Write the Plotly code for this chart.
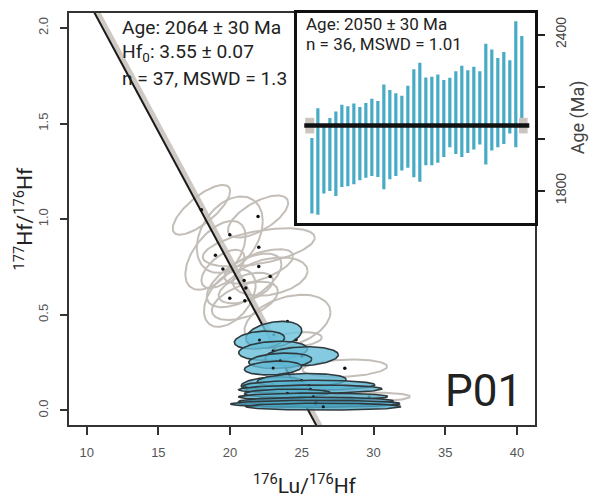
import numpy as np
import plotly.graph_objects as go
from plotly.colors import sample_colorscale

# ---- isochron summary -------------------------------------------------
iso_age = 2064          # Ma
iso_age_err = 30
hf0 = 3.55
hf0_err = 0.07
iso_n = 37
iso_mswd = 1.3
lambda_lu = 1.867e-5    # 176Lu decay constant, 1/Ma

# ---- weighted mean summary --------------------------------------------
wm_age = 2050
wm_err = 30
wm_n = 36
wm_mswd = 1.01

# 2-sigma age intervals of the individual analyses (Ma), ranked
age_lo = [1712, 1707, 1789, 1799, 1780, 1814, 1817, 1825, 1840, 1850, 1856, 1853,
          1805, 1844, 1856, 1878, 1888, 1852, 1834, 1898, 1898, 1907, 1929, 1967,
          1941, 1929, 1945, 1958, 1977, 1901, 1954, 1967, 1979, 2020, 1967, 2051]
age_hi = [2002, 2117, 2053, 2079, 2104, 2130, 2124, 2135, 2122, 2137, 2153, 2145,
          2208, 2187, 2174, 2165, 2203, 2267, 2292, 2235, 2238, 2246, 2225, 2234,
          2259, 2280, 2263, 2276, 2259, 2365, 2343, 2310, 2333, 2301, 2451, 2394]

# ---- analyses drawn as open (grey) ellipses ---------------------------
grey_lu  = [18.0, 21.95, 19.98, 22.0, 18.98, 22.0, 20.98, 21.1, 19.98, 21.03, 19.5, 22.8, 24.0, 24.6, 28.0, 29.7]
grey_hf  = [1.049, 1.014, 0.919, 0.853, 0.811, 0.753, 0.680, 0.640, 0.587, 0.573, 0.74, 0.70, 0.465, 0.37, 0.221, 0.069]
grey_slu = [2.0, 2.1, 2.3, 3.9, 2.1, 2.4, 2.6, 1.9, 1.8, 2.3, 1.5, 2.6, 3.0, 1.8, 2.95, 2.85]
grey_shf = [0.13, 0.11, 0.20, 0.10, 0.18, 0.09, 0.14, 0.08, 0.15, 0.10, 0.10, 0.10, 0.14, 0.04, 0.045, 0.024]
grey_rho = [0.75, 0.65, 0.35, 0.5, 0.55, 0.6, 0.6, 0.5, 0.45, 0.5, 0.6, 0.3, 0.35, 0.3, 0.2, 0.15]

# ---- analyses drawn as filled (blue) ellipses -------------------------
blue_lu  = [23.05, 22.05, 23.0, 25.0, 23.5, 23.0, 22.98, 25.0, 25.5, 25.6, 24.0, 25.8, 24.0, 26.0, 25.95, 26.5]
blue_hf  = [0.396, 0.368, 0.312, 0.283, 0.26, 0.222, 0.137, 0.157, 0.131, 0.111, 0.090, 0.072, 0.040, 0.048, 0.035, 0.020]
blue_slu = [1.95, 1.75, 2.4, 2.55, 2.2, 2.0, 2.2, 3.1, 4.6, 5.0, 3.0, 5.2, 3.4, 5.4, 5.9, 5.4]
blue_shf = [0.07, 0.047, 0.05, 0.05, 0.04, 0.036, 0.039, 0.036, 0.027, 0.022, 0.022, 0.019, 0.02, 0.021, 0.018, 0.018]
blue_rho = [0.3, 0.25, 0.2, 0.15, 0.2, 0.2, 0.2, 0.15, 0.1, 0.1, 0.1, 0.05, 0.05, 0.05, 0.05, 0.0]

x_ticks = [10, 15, 20, 25, 30, 35, 40]
y_ticks = [0.0, 0.5, 1.0, 1.5, 2.0]
age_labels = [1800, 2400]

AXFONT = "Liberation Sans, Arial, sans-serif"
TXFONT = "Roboto, Liberation Sans, sans-serif"


def ellipse(cx, cy, sx, sy, rho, npts=120):
    t = np.linspace(0, 2 * np.pi, npts)
    x = cx + sx * np.cos(t)
    y = cy + sy * (rho * np.cos(t) + np.sqrt(1 - rho ** 2) * np.sin(t))
    return x, y


fig = go.Figure()

# isochron line and its grey envelope
slope = hf0 * (np.exp(lambda_lu * iso_age) - 1)
lx = np.linspace(5, 30, 50)
ly = hf0 - slope * lx
fig.add_trace(go.Scatter(x=lx + 0.2, y=ly, mode="lines",
                         line=dict(color="#cfc9c3", width=6), hoverinfo="skip"))

# open ellipses
for cx, cy, sx, sy, r in zip(grey_lu, grey_hf, grey_slu, grey_shf, grey_rho):
    ex, ey = ellipse(cx, cy, sx, sy, r)
    fig.add_trace(go.Scatter(x=ex, y=ey, mode="lines",
                             line=dict(color="#c4beb8", width=2), hoverinfo="skip"))

fig.add_trace(go.Scatter(x=lx, y=ly, mode="lines",
                         line=dict(color="#1a1a1a", width=2), hoverinfo="skip"))

fig.add_trace(go.Scatter(x=grey_lu, y=grey_hf, mode="markers",
                         marker=dict(color="#111", size=3.5), hoverinfo="skip"))

# filled ellipses, shaded from light (top) to teal (bottom)
shades = sample_colorscale([[0, "#6cc3dd"], [1, "#4aa6c6"]],
                           list(np.linspace(0, 1, len(blue_lu))))
for k, (cx, cy, sx, sy, r) in enumerate(zip(blue_lu, blue_hf, blue_slu, blue_shf, blue_rho)):
    ex, ey = ellipse(cx, cy, sx, sy, r)
    fig.add_trace(go.Scatter(x=ex, y=ey, mode="lines", fill="toself",
                             fillcolor=shades[k].replace("rgb", "rgba").replace(")", ",0.8)"),
                             line=dict(color="#2f3a3f", width=1.6), hoverinfo="skip"))
    fig.add_trace(go.Scatter(x=[cx], y=[cy], mode="markers",
                             marker=dict(color="#111", size=3), hoverinfo="skip"))

# weighted-mean inset: one vertical bar per analysis
bx, by = [], []
for i, (lo, hi) in enumerate(zip(age_lo, age_hi), start=1):
    bx += [i, i, None]
    by += [lo, hi, None]
fig.add_trace(go.Scatter(x=bx, y=by, mode="lines", xaxis="x2", yaxis="y2",
                         line=dict(color="#48abc6", width=3.2), hoverinfo="skip"))

fig.update_layout(
    width=589, height=499,
    margin=dict(l=69, r=54, t=10, b=74),
    paper_bgcolor="white", plot_bgcolor="white",
    showlegend=False,
    font=dict(family=AXFONT, color="#222"),
    xaxis=dict(range=[8.77, 41.26], tickvals=x_ticks, ticks="outside", ticklen=8,
               tickwidth=1.5, tickcolor="#333", showline=True, linecolor="#333",
               linewidth=2, mirror=True, showgrid=False, zeroline=False,
               tickfont=dict(size=13, color="#555"), ticklabelstandoff=6),
    yaxis=dict(range=[-0.076, 2.078], tickvals=y_ticks,
               ticktext=[f"{v:.1f}" for v in y_ticks], tickangle=-90,
               ticks="outside", ticklen=7, tickwidth=1.5, tickcolor="#333",
               showline=True, linecolor="#333", linewidth=2, mirror=True,
               showgrid=False, zeroline=False,
               tickfont=dict(size=13, color="#555"), ticklabelstandoff=7),
    xaxis2=dict(domain=[0.489, 1.0], anchor="y2", range=[-1.5, 38.2],
                tickvals=[], showticklabels=False, ticks="", showline=True,
                linecolor="#111", linewidth=2.5, mirror=True, showgrid=False,
                zeroline=False),
    yaxis2=dict(domain=[0.49, 1.0], anchor="x2", side="right",
                range=[1675.3, 2482.8], tickvals=age_labels,
                tickangle=-90, ticks="outside", ticklen=7, tickwidth=1.5,
                tickcolor="#222", showline=True, linecolor="#111", linewidth=2.5,
                mirror=True, showgrid=False, zeroline=False,
                minor=dict(tick0=1800, dtick=200, ticks="outside", ticklen=7,
                           tickwidth=1.5, tickcolor="#222", showgrid=False),
                tickfont=dict(size=14, color="#444"), ticklabelstandoff=4),
    shapes=[
        dict(type="rect", xref="x2 domain", yref="y2", x0=0.035, x1=0.073,
             y0=wm_age - wm_err, y1=wm_age + wm_err, fillcolor="#cbc5c0",
             line=dict(width=0), layer="above"),
        dict(type="rect", xref="x2 domain", yref="y2", x0=0.933, x1=0.969,
             y0=wm_age - wm_err, y1=wm_age + wm_err, fillcolor="#cbc5c0",
             line=dict(width=0), layer="above"),
        dict(type="line", xref="x2 domain", yref="y2", x0=0.031, x1=0.976,
             y0=wm_age, y1=wm_age, line=dict(color="#111", width=4.5), layer="above"),
    ],
)


def px(xp):
    return (xp - 69) / 466


def py(yp):
    return (425 - yp) / 415


ann = [
    dict(text=f"Age: {iso_age} ± {iso_age_err} Ma", x=px(120), y=py(25), size=19.2),
    dict(text=f"Hf<sub>0</sub>: {hf0:.2f} ± {hf0_err:.2f}", x=px(120), y=py(50), size=19.2),
    dict(text=f"n = {iso_n}, MSWD = {iso_mswd}", x=px(120), y=py(76), size=19.2),
    dict(text=f"Age: {wm_age} ± {wm_err} Ma", x=px(304), y=py(21), size=17),
    dict(text=f"n = {wm_n}, MSWD = {wm_mswd:.2f}", x=px(304), y=py(41), size=17),
]
for a in ann:
    fig.add_annotation(text=a["text"], x=a["x"], y=a["y"], xref="paper", yref="paper",
                       xanchor="left", yanchor="middle", showarrow=False,
                       font=dict(size=a["size"], color="#222", family=TXFONT))

fig.add_annotation(text="P01", x=px(524), y=py(391), xref="paper", yref="paper",
                   xanchor="right", yanchor="middle", showarrow=False,
                   font=dict(size=44, color="#222", family=TXFONT))
fig.add_annotation(text="<sup>176</sup>Lu/<sup>176</sup>Hf", x=px(305), y=py(484),
                   xref="paper", yref="paper", xanchor="center", yanchor="middle",
                   showarrow=False, font=dict(size=21, color="#222", family=TXFONT))
fig.add_annotation(text="<sup>177</sup>Hf/<sup>176</sup>Hf", x=px(24), y=py(218),
                   xref="paper", yref="paper", xanchor="center", yanchor="middle",
                   textangle=-90, showarrow=False,
                   font=dict(size=21, color="#222", family=TXFONT))
fig.add_annotation(text="Age (Ma)", x=px(578), y=py(115), xref="paper", yref="paper",
                   xanchor="center", yanchor="middle", textangle=-90, showarrow=False,
                   font=dict(size=18, color="#444", family=TXFONT))

fig.write_html("out.html")
